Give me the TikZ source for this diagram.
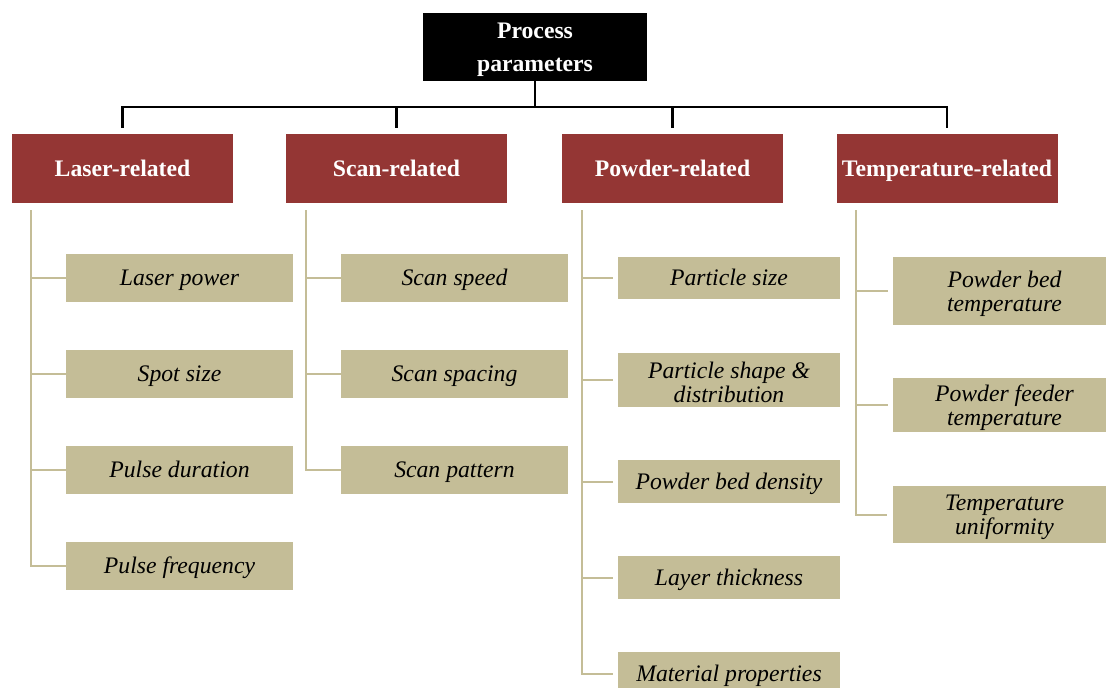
\documentclass[tikz,border=0pt]{standalone}
\usepackage{fontspec}
\setmainfont{Liberation Serif}
\definecolor{redbox}{HTML}{943634}
\definecolor{tanbox}{HTML}{C4BD97}
\newcommand{\topstrut}{\rule{0pt}{22pt}}
\begin{document}
\begin{tikzpicture}[x=1pt,y=-1pt,
  rootbox/.style={fill=black,text=white,font=\fontsize{23.7}{33}\selectfont\bfseries,align=center,inner sep=0pt,minimum width=224pt,minimum height=68pt},
  catbox/.style={fill=redbox,text=white,font=\fontsize{23.7}{28}\selectfont\bfseries,inner sep=0pt,minimum width=221pt,minimum height=69pt,text height=16pt,text depth=0pt},
  itembox/.style={fill=tanbox,text=black,font=\fontsize{23.7}{24}\selectfont\itshape,inner sep=0pt},
  oneline/.style={itembox,text height=15pt,text depth=0pt},
  twoline/.style={itembox,align=center},
  lcol/.style={oneline,minimum width=227pt,minimum height=48pt},
  pcol/.style={minimum width=222pt},
  tcol/.style={twoline,minimum width=223pt},
  bus/.style={line width=2.2pt,black},
  branch/.style={line width=2pt,tanbox},
  gapbranch/.style={branch,shorten <=5pt}]
\useasboundingbox (0,0) rectangle (1106,688);
\clip (0,0) rectangle (1106,688);
% root
\node[rootbox] (root) at (535,47) {\topstrut Process\\parameters};
\coordinate (j) at (535,107);
% categories
\node[catbox] (laser) at (122.5,168.5) {Laser-related};
\node[catbox] (scan) at (396.5,168.5) {Scan-related};
\node[catbox] (powder) at (672.5,168.5) {Powder-related};
\node[catbox] (temp) at (947,168.5) {Temperature-related};
\draw[bus] (root.south) -- (j);
\draw[bus] ([yshift=6pt]laser.north) |- (j) -| ([yshift=6pt]temp.north);
\draw[bus] ([yshift=6pt]scan.north) -- (scan.north |- j);
\draw[bus] ([yshift=6pt]powder.north) -- (powder.north |- j);
% laser items
\node[lcol] (l1) at (179.5,277.5) {Laser power};
\node[lcol] (l2) at (179.5,374) {Spot size};
\node[lcol] (l3) at (179.5,470) {Pulse duration};
\node[lcol] (l4) at (179.5,566) {Pulse frequency};
\coordinate (lv) at ([xshift=19pt,yshift=-7pt]laser.south west);
\draw[branch] (lv) |- (l4.west);
\foreach \n in {l1,l2,l3} \draw[branch] (\n.west) -- (\n.west -| lv);
% scan items
\node[lcol] (s1) at (454.5,277.5) {Scan speed};
\node[lcol] (s2) at (454.5,374) {Scan spacing};
\node[lcol] (s3) at (454.5,470) {Scan pattern};
\coordinate (sv) at ([xshift=20pt,yshift=-7pt]scan.south west);
\draw[branch] (sv) |- (s3.west);
\foreach \n in {s1,s2} \draw[branch] (\n.west) -- (\n.west -| sv);
% powder items
\node[oneline,pcol,minimum height=42pt] (p1) at (729,278) {Particle size};
\node[twoline,pcol,minimum height=54pt] (p2) at (729,380) {\topstrut Particle shape \&\\distribution};
\node[oneline,pcol,minimum height=43pt] (p3) at (729,481.5) {Powder bed density};
\node[oneline,pcol,minimum height=43pt] (p4) at (729,577.5) {Layer thickness};
\node[oneline,pcol,minimum height=43pt] (p5) at (729,673.5) {Material properties};
\coordinate (pv) at ([xshift=20pt,yshift=-7pt]powder.south west);
\draw[branch] (pv) |- ([xshift=-5pt]p5.west);
\foreach \n in {p1,p2,p3,p4} \draw[gapbranch] (\n.west) -- (\n.west -| pv);
% temperature items
\node[tcol,minimum height=68pt] (t1) at (1004.5,291) {\topstrut Powder bed\\temperature};
\node[tcol,minimum height=54pt] (t2) at (1004.5,405) {\topstrut Powder feeder\\temperature};
\node[tcol,minimum height=57pt] (t3) at (1004.5,514.5) {\topstrut Temperature\\uniformity};
\coordinate (tv) at ([xshift=20pt,yshift=-7pt]temp.south west);
\draw[branch] (tv) |- ([xshift=-6pt]t3.west);
\foreach \n in {t1,t2} \draw[gapbranch] (\n.west) -- (\n.west -| tv);
\end{tikzpicture}
\end{document}
